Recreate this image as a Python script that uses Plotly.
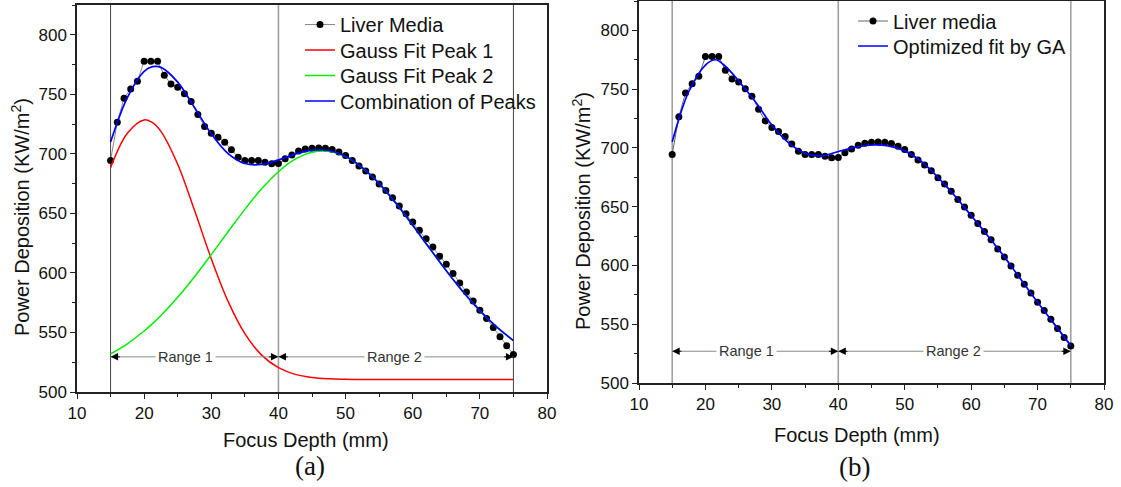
import plotly.graph_objects as go

W, H = 1121, 487
SANS = "Liberation Sans, Arial, Helvetica, sans-serif"
SERIF = "Liberation Serif, Times New Roman, serif"

# Measured power deposition along focus depth (mm)
depth_mm = [15, 16, 17, 18, 19, 20, 21, 22, 23, 24, 25, 26, 27, 28, 29, 30,
            31, 32, 33, 34, 35, 36, 37, 38, 39, 40, 41, 42, 43, 44, 45, 46,
            47, 48, 49, 50, 51, 52, 53, 54, 55, 56, 57, 58, 59, 60, 61, 62,
            63, 64, 65, 66, 67, 68, 69, 70, 71, 72, 73, 74, 75]
liver_power = [694.5, 726.6, 746.7, 754.5, 761.0, 777.7, 777.7, 777.7, 766.0,
               758.6, 756.0, 750.4, 744.0, 733.0, 723.0, 717.4, 714.0, 709.8,
               703.4, 697.2, 694.5, 694.5, 694.5, 693.0, 691.7, 691.9, 695.9,
               699.0, 702.3, 704.0, 704.8, 705.0, 704.8, 703.7, 701.5, 698.7,
               694.5, 689.8, 685.5, 680.5, 674.6, 669.3, 663.1, 656.1, 649.7,
               642.7, 635.8, 628.8, 621.8, 614.0, 607.3, 599.5, 591.6, 584.0,
               576.5, 568.7, 561.7, 554.2, 546.4, 538.8, 531.5]

# Two-peak Gaussian decomposition (panel a)
fit_depth = [15, 17.5, 20, 21.25, 22.5, 25, 27.5, 30, 32.5, 35, 37.5, 40, 42.5,
             45, 47.5, 50, 52.5, 55, 57.5, 60, 62.5, 65, 67.5, 70, 72.5, 75]
peak1_power = [688.4, 717.3, 728.5, 726.3, 718.9, 691.2, 652.6, 611.9, 576.1,
               549.0, 531.0, 520.4, 514.8, 512.2, 511.1, 510.7, 510.5, 510.5,
               510.5, 510.5, 510.5, 510.5, 510.5, 510.5, 510.5, 510.5]
peak2_power = [532.0, 540.5, 551.2, 557.4, 564.2, 579.5, 596.8, 615.4, 634.6,
               653.4, 670.6, 685.0, 695.5, 701.4, 702.2, 697.7, 688.4, 675.0,
               658.5, 640.0, 620.8, 601.9, 584.2, 568.3, 554.6, 543.2]
combined_power = [709.9, 747.3, 769.2, 773.2, 772.6, 760.2, 738.9, 716.8, 700.2,
                  691.9, 691.1, 694.9, 699.8, 703.1, 702.8, 697.9, 688.4, 675.0,
                  658.5, 640.0, 620.8, 601.9, 584.2, 568.3, 554.6, 543.2]

# Genetic-algorithm optimized fit (panel b)
ga_depth = [15, 16, 17.5, 20, 21.5, 23, 25, 27.5, 30, 32.5, 35, 37.5, 40, 42.5,
            45, 47.5, 50, 52.5, 55, 57.5, 60, 62.5, 65, 67.5, 70, 72.5, 75]
ga_power = [705.0, 724.5, 748.0, 770.5, 775.0, 769.5, 757.0, 739.5, 719.5,
            704.5, 695.5, 693.3, 697.0, 700.5, 702.5, 701.8, 697.5, 688.5,
            675.0, 659.5, 642.5, 625.3, 607.3, 588.0, 568.7, 550.3, 531.8]

range_bounds = [15, 40, 75]
range_labels = ["Range 1", "Range 2"]
range_label_x = [26.2, 57.3]
panel_tags = ["(a)", "(b)"]


def px(p):
    return p / W


def py(p):
    return 1 - p / H


fig = go.Figure()

# ---- panel (a) ----  (one legend box per entry for tight row spacing)
fig.add_trace(go.Scatter(
    x=depth_mm, y=liver_power, mode="lines+markers", name="Liver Media",
    line=dict(color="#8a8a8a", width=1), marker=dict(color="black", size=7),
    xaxis="x", yaxis="y", legend="legend", showlegend=True))
fig.add_trace(go.Scatter(
    x=fit_depth, y=peak1_power, mode="lines", name="Gauss Fit Peak 1",
    line=dict(color="#ff0000", width=1.5, shape="spline"),
    xaxis="x", yaxis="y", legend="legend2"))
fig.add_trace(go.Scatter(
    x=fit_depth, y=peak2_power, mode="lines", name="Gauss Fit Peak 2",
    line=dict(color="#00ee00", width=1.5, shape="spline"),
    xaxis="x", yaxis="y", legend="legend3"))
fig.add_trace(go.Scatter(
    x=fit_depth, y=combined_power, mode="lines", name="Combination of Peaks",
    line=dict(color="#0000ff", width=1.7, shape="spline"),
    xaxis="x", yaxis="y", legend="legend4"))

# ---- panel (b) ----
fig.add_trace(go.Scatter(
    x=depth_mm, y=liver_power, mode="lines+markers", name="Liver media",
    line=dict(color="#666666", width=1), marker=dict(color="black", size=7),
    xaxis="x2", yaxis="y2", legend="legend5"))
fig.add_trace(go.Scatter(
    x=ga_depth, y=ga_power, mode="lines", name="Optimized fit by GA",
    line=dict(color="#0000ff", width=1.7, shape="spline"),
    xaxis="x2", yaxis="y2", legend="legend6"))

axis_common = dict(
    showgrid=False, zeroline=False, showline=True, linecolor="#222",
    linewidth=1.5, mirror=True, ticks="outside", ticklen=5, tickwidth=1,
    tickcolor="#222", automargin=False,
    tickfont=dict(family=SANS, size=17, color="#111"))
x_common = dict(axis_common, range=[10, 80], tick0=10, dtick=10,
                minor=dict(dtick=5, ticklen=3, ticks="outside", tickcolor="#222"))
y_common = dict(axis_common, range=[500, 825], tick0=500, dtick=50,
                minor=dict(dtick=25, ticklen=3, ticks="outside", tickcolor="#222"))


def legend_box(left_px, top_px):
    return dict(x=px(left_px), y=py(top_px), xanchor="left", yanchor="top",
                bgcolor="rgba(0,0,0,0)", tracegroupgap=0, visible=True,
                font=dict(family=SANS, size=20, color="#111"))


fig.update_layout(
    template="none", showlegend=True,
    width=W, height=H, margin=dict(l=0, r=0, t=0, b=0, autoexpand=False),
    paper_bgcolor="white", plot_bgcolor="white",
    font=dict(family=SANS, color="#111"),
    xaxis=dict(x_common, domain=[px(77), px(547)], anchor="y"),
    yaxis=dict(y_common, domain=[py(392), py(5)], anchor="x"),
    xaxis2=dict(x_common, domain=[px(639), px(1104)], anchor="y2"),
    yaxis2=dict(y_common, domain=[py(383), py(1)], anchor="x2"),
    legend=legend_box(300, 5),
    legend2=legend_box(300, 30.5),
    legend3=legend_box(300, 56),
    legend4=legend_box(300, 81.5),
    legend5=legend_box(853, 1.5),
    legend6=legend_box(853, 26.5),
)

shapes = []
annotations = []

# vertical range boundaries and range arrows
panels = [
    dict(x="x", y="y", colors=["#444", "#a0a0a0", "#444"], widths=[1, 1.6, 1], arrow_y=529.5),
    dict(x="x2", y="y2", colors=["#a0a0a0"] * 3, widths=[1.6] * 3, arrow_y=527.0),
]
for p in panels:
    for b, c, w in zip(range_bounds, p["colors"], p["widths"]):
        shapes.append(dict(type="line", xref=p["x"], yref=p["y"] + " domain",
                           x0=b, x1=b, y0=0, y1=1, line=dict(color=c, width=w),
                           layer="below"))
    ay = p["arrow_y"]
    for i, lab in enumerate(range_labels):
        a, b = range_bounds[i], range_bounds[i + 1]
        shapes.append(dict(type="line", xref=p["x"], yref=p["y"], x0=a, x1=b,
                           y0=ay, y1=ay, line=dict(color="#8a8a8a", width=1)))
        for head, tail in ((a, a + 1.6), (b, b - 1.6)):
            annotations.append(dict(
                xref=p["x"], yref=p["y"], axref=p["x"], ayref=p["y"],
                x=head, y=ay, ax=tail, ay=ay, text="", showarrow=True,
                arrowhead=2, arrowsize=1.5, arrowwidth=1, arrowcolor="black"))
        annotations.append(dict(
            xref=p["x"], yref=p["y"], x=range_label_x[i], y=ay, text=lab,
            showarrow=False, bgcolor="white", borderpad=2,
            font=dict(family=SANS, size=14.5, color="#333")))

# axis titles and panel tags
ytitle = "Power Deposition (KW/m<sup>2</sup>)"
for xp, yp in ((20, 217), (581, 211)):
    annotations.append(dict(xref="paper", yref="paper", x=px(xp), y=py(yp),
                            xanchor="center", yanchor="middle",
                            text=ytitle, textangle=-90, showarrow=False,
                            font=dict(family=SANS, size=20, color="#111")))
for xp, yp in ((306, 440), (857, 435)):
    annotations.append(dict(xref="paper", yref="paper", x=px(xp), y=py(yp),
                            xanchor="center", yanchor="middle",
                            text="Focus Depth (mm)", showarrow=False,
                            font=dict(family=SANS, size=20, color="#111")))
for tag, (xp, yp) in zip(panel_tags, ((310, 466), (854, 467))):
    annotations.append(dict(xref="paper", yref="paper", x=px(xp), y=py(yp),
                            xanchor="center", yanchor="middle",
                            text=tag, showarrow=False,
                            font=dict(family=SERIF, size=27, color="#111")))

fig.update_layout(shapes=shapes, annotations=annotations)
fig.write_html("out.html")
